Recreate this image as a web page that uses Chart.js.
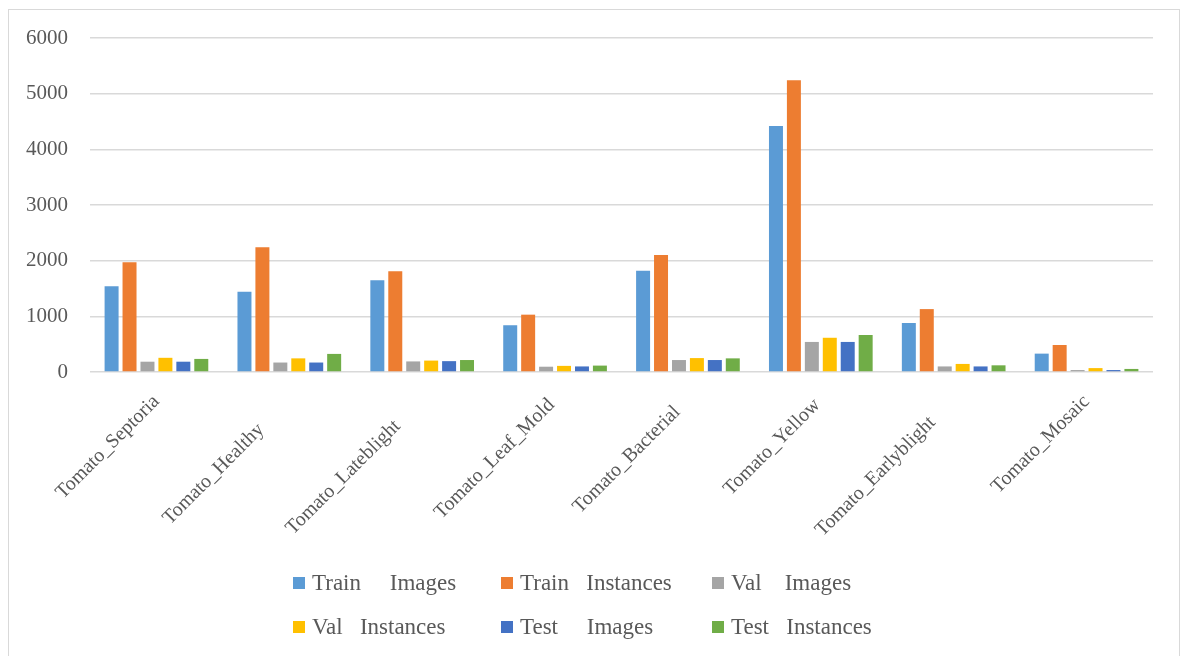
<!DOCTYPE html>
<html>
<head>
<meta charset="utf-8">
<script src="https://cdn.jsdelivr.net/npm/chart.js@4.4.1/dist/chart.umd.min.js"></script>
<style>
  html, body { margin: 0; padding: 0; background: #fff; }
  #wrap { position: relative; width: 1181px; height: 656px; overflow: hidden; }
  #frame { position: absolute; left: 8px; top: 9px; width: 1172px; height: 700px; border: 1px solid #d9d9d9; box-sizing: border-box; }
  #c { position: absolute; left: 0; top: 0; }
  #legend { position: absolute; left: 0; top: 0; font-family: "Liberation Serif", serif; font-size: 23px; color: #595959; }
  .item { position: absolute; white-space: pre; display: flex; align-items: center; height: 26px; line-height: 26px; }
  .sw { width: 12px; height: 12px; margin-right: 7px; flex: none; }
</style>
</head>
<body>
<div id="wrap">
  <div id="frame"></div>
  <canvas id="c" width="1181" height="656"></canvas>
  <div id="legend"></div>
</div>
<script>
// Disease classes along the x axis (trailing blanks kept as entered in the sheet)
const categories = [
  'Tomato_Septoria', 'Tomato_Healthy        ', 'Tomato_Lateblight       ', 'Tomato_Leaf_Mold ',
  'Tomato_Bacterial   ', 'Tomato_Yellow ', 'Tomato_Earlyblight      ', 'Tomato_Mosaic'
];

// Counts per split
const trainImages    = [1540, 1440, 1650,  840, 1820, 4420,  880, 330];
const trainInstances = [1970, 2240, 1810, 1030, 2100, 5240, 1130, 485];
const valImages      = [ 185,  170,  190,   95,  215,  540,  100,  35];
const valInstances   = [ 255,  245,  205,  110,  250,  615,  145,  70];
const testImages     = [ 185,  170,  195,  100,  215,  540,  100,  35];
const testInstances  = [ 235,  325,  215,  115,  245,  665,  120,  55];

// Series names as shown in the legend
const seriesNames = [
  'Train     Images', 'Train   Instances', 'Val    Images',
  'Val   Instances', 'Test     Images', 'Test   Instances'
];
const seriesValues = [trainImages, trainInstances, valImages, valInstances, testImages, testInstances];
const seriesColors = ['#5B9BD5', '#ED7D31', '#A5A5A5', '#FFC000', '#4472C4', '#70AD47'];

// Value axis
const yMin = 0, yMax = 6000, yStep = 1000;

const FONT = '"Liberation Serif", serif';
const TEXT = '#595959';
const GRID = '#d9d9d9';

const datasets = seriesNames.map((name, i) => ({
  label: name,
  data: seriesValues[i],
  backgroundColor: seriesColors[i],
  borderWidth: 0,
  categoryPercentage: 0.81,
  barPercentage: 0.78
}));

new Chart(document.getElementById('c'), {
  type: 'bar',
  data: { labels: categories, datasets },
  options: {
    responsive: false,
    animation: false,
    layout: { padding: { top: 38, right: 28, left: 0, bottom: 0 } },
    plugins: { legend: { display: false }, tooltip: { enabled: false } },
    scales: {
      y: {
        min: yMin, max: yMax,
        ticks: {
          stepSize: yStep, color: TEXT, font: { family: FONT, size: 21 }, padding: 22,
          callback: v => String(v)
        },
        grid: { color: GRID, lineWidth: 1.5, drawTicks: false },
        border: { display: false },
        afterFit: s => { s.width = 90; }
      },
      x: {
        ticks: { color: TEXT, font: { family: FONT, size: 20 }, minRotation: 45, maxRotation: 45, padding: 18, autoSkip: false },
        grid: { display: false, drawTicks: false },
        border: { display: false },
        afterFit: s => { s.height = 284; }
      }
    }
  }
});

// Legend laid out in a 3-column grid under the plot
const legend = document.getElementById('legend');
const colX = [293, 501, 712];
const rowY = [570, 614];
seriesNames.forEach((name, i) => {
  const item = document.createElement('div');
  item.className = 'item';
  item.style.left = colX[i % 3] + 'px';
  item.style.top = rowY[Math.floor(i / 3)] + 'px';
  const sw = document.createElement('span');
  sw.className = 'sw';
  sw.style.background = seriesColors[i];
  const txt = document.createElement('span');
  txt.textContent = name;
  item.appendChild(sw);
  item.appendChild(txt);
  legend.appendChild(item);
});
</script>
</body>
</html>
